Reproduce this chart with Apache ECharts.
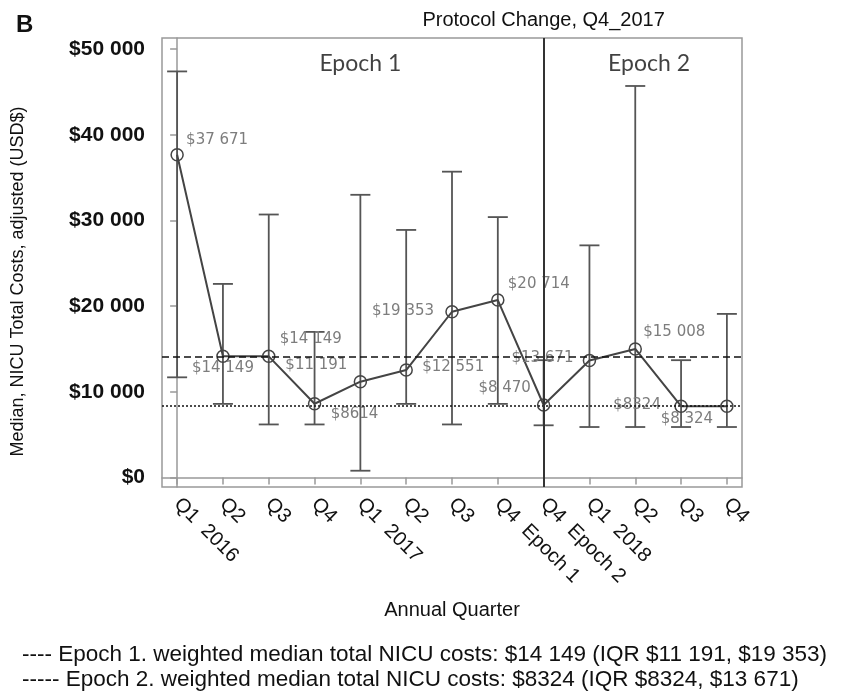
<!DOCTYPE html>
<html>
<head>
<meta charset="utf-8">
<script src="https://cdn.jsdelivr.net/npm/echarts@6/dist/echarts.min.js"></script>
<style>
html, body { margin: 0; padding: 0; background: #fff; }
#chart { width: 841px; height: 694px; }
</style>
</head>
<body>
<div id="chart"></div>
<script>
// data
var quarters = ['Q1  2016', 'Q2', 'Q3', 'Q4', 'Q1  2017', 'Q2', 'Q3', 'Q4  Epoch 1', 'Q4  Epoch 2', 'Q1  2018', 'Q2', 'Q3', 'Q4'];
var medians = [37671, 14149, 14149, 8614, 11191, 12551, 19353, 20714, 8470, 13671, 15008, 8324, 8324];
var iqrLow = [11700, 8600, 6200, 6200, 800, 8600, 6200, 8600, 6100, 5900, 5900, 5900, 5900];
var iqrHigh = [47400, 22600, 30700, 17000, 33000, 28900, 35700, 30400, 13700, 27100, 45700, 13700, 19100];
var pointLabels = ['$37 671', '$14 149', '$14 149', '$8614', '$11 191', '$12 551', '$19 353', '$20 714', '$8 470', '$13 671', '$15 008', '$8324', '$8 324'];
var epoch1Median = 14149;
var epoch2Median = 8324;
var protocolIndex = 8;
var yTicks = [0, 10000, 20000, 30000, 40000, 50000];
var epochNotes = [[4.0, 48300, 'Epoch 1'], [10.3, 48300, 'Epoch 2']];
var legendLines = [
  '---- Epoch 1. weighted median total NICU costs: $14 149 (IQR $11 191, $19 353)',
  '----- Epoch 2. weighted median total NICU costs: $8324 (IQR $8324, $13 671)'
];

// label placement (offset of label centre from the point)
var labelOffsets = [[40, -15], [0, 12], [42, -17], [40, 10], [-44, -17], [47, -3], [-49, -1], [41, -16], [-39, -17], [-47, -2], [39, -17], [-44, -1], [-40, 13]];

var chartDom = document.getElementById('chart');
var myChart = echarts.init(chartDom);

var idx = quarters.map(function (q, i) { return i; });

function money(v) {
  if (v === 0) return '$0';
  var s = String(v);
  return '$' + s.slice(0, s.length - 3) + ' ' + s.slice(-3);
}

var lineData = medians.map(function (m, i) {
  return {
    value: [i, m],
    label: { offset: labelOffsets[i], formatter: pointLabels[i] }
  };
});

var barData = medians.map(function (m, i) { return [i, iqrLow[i], iqrHigh[i]]; });

var option = {
  animation: false,
  backgroundColor: '#fff',
  textStyle: { fontFamily: 'Liberation Sans' },
  title: [
    { text: 'B', left: 11, top: 8, textStyle: { fontSize: 24, fontWeight: 'bold', color: '#111', fontFamily: 'Liberation Sans' } },
    { text: legendLines[0], left: 17, top: 638, textStyle: { fontSize: 22.5, fontWeight: 'normal', color: '#111', fontFamily: 'Liberation Sans' } },
    { text: legendLines[1], left: 17, top: 663, textStyle: { fontSize: 22.5, fontWeight: 'normal', color: '#111', fontFamily: 'Liberation Sans' } }
  ],
  grid: {
    left: 162, right: 99, top: 38, bottom: 207,
    show: true, borderColor: '#999', borderWidth: 1.5
  },
  xAxis: {
    type: 'value',
    min: -0.33,
    max: 12.33,
    splitLine: { show: false },
    axisLine: { show: true, lineStyle: { color: '#999', width: 1.5 } },
    axisTick: { show: true, customValues: idx, length: 7, lineStyle: { color: '#999', width: 1.5 } },
    axisLabel: {
      customValues: idx,
      formatter: function (v) { return quarters[Math.round(v)]; },
      rotate: -45,
      margin: 14,
      fontSize: 20,
      color: '#111',
      fontFamily: 'Liberation Sans'
    },
    name: 'Annual Quarter',
    nameLocation: 'middle',
    nameGap: 113,
    nameTextStyle: { fontSize: 20, color: '#111', fontFamily: 'Liberation Sans' }
  },
  yAxis: {
    type: 'value',
    min: -1100,
    max: 51300,
    splitLine: { show: false },
    axisLine: { show: true, lineStyle: { color: '#999', width: 1.5 } },
    axisTick: { show: true, customValues: yTicks, length: 7, lineStyle: { color: '#999', width: 1.5 } },
    axisLabel: {
      customValues: yTicks,
      formatter: money,
      margin: 17,
      fontSize: 21,
      fontWeight: 'bold',
      color: '#111',
      fontFamily: 'Liberation Sans'
    },
    name: 'Median, NICU Total Costs, adjusted (USD$)',
    nameLocation: 'middle',
    nameGap: 135,
    nameTextStyle: { fontSize: 18, color: '#111', fontFamily: 'Liberation Sans', padding: [0, 38, 0, 0] }
  },
  series: [
    {
      name: 'IQR',
      type: 'custom',
      data: barData,
      z: 2,
      renderItem: function (params, api) {
        var x = api.value(0);
        var lo = api.coord([x, api.value(1)]);
        var hi = api.coord([x, api.value(2)]);
        var w = 10;
        var style = { stroke: '#555', lineWidth: 1.8, fill: null };
        return {
          type: 'group',
          children: [
            { type: 'line', shape: { x1: lo[0], y1: lo[1], x2: hi[0], y2: hi[1] }, style: style },
            { type: 'line', shape: { x1: lo[0] - w, y1: lo[1], x2: lo[0] + w, y2: lo[1] }, style: style },
            { type: 'line', shape: { x1: hi[0] - w, y1: hi[1], x2: hi[0] + w, y2: hi[1] }, style: style }
          ]
        };
      }
    },
    {
      name: 'Median',
      type: 'line',
      data: lineData,
      z: 3,
      symbol: 'circle',
      symbolSize: 12,
      lineStyle: { color: '#444', width: 2 },
      itemStyle: { color: 'rgba(0,0,0,0)', borderColor: '#444', borderWidth: 1.5 },
      label: {
        show: true,
        position: 'inside',
        align: 'center',
        verticalAlign: 'middle',
        fontSize: 15,
        color: '#7d7d7d',
        fontFamily: 'DejaVu Sans'
      },
      markLine: {
        silent: true,
        symbol: 'none',
        data: [
          { yAxis: epoch1Median, lineStyle: { color: '#111', type: [7, 4], width: 1.6 }, label: { show: false } },
          { yAxis: epoch2Median, lineStyle: { color: '#111', type: [2, 2], width: 1.6 }, label: { show: false } },
          {
            xAxis: protocolIndex,
            lineStyle: { color: '#333', type: 'solid', width: 2 },
            label: {
              show: true,
              position: 'end',
              formatter: 'Protocol Change, Q4_2017',
              distance: 8,
              fontSize: 20,
              color: '#111',
              fontFamily: 'Liberation Sans'
            }
          }
        ]
      }
    },
    {
      name: 'Epochs',
      type: 'scatter',
      data: epochNotes,
      symbolSize: 0,
      z: 4,
      label: {
        show: true,
        position: 'inside',
        formatter: function (p) { return p.value[2]; },
        fontSize: 23,
        color: '#111',
        fontFamily: 'Lato'
      }
    }
  ]
};

option && myChart.setOption(option);
window.addEventListener('resize', function () {
  myChart.resize();
});
</script>
</body>
</html>
